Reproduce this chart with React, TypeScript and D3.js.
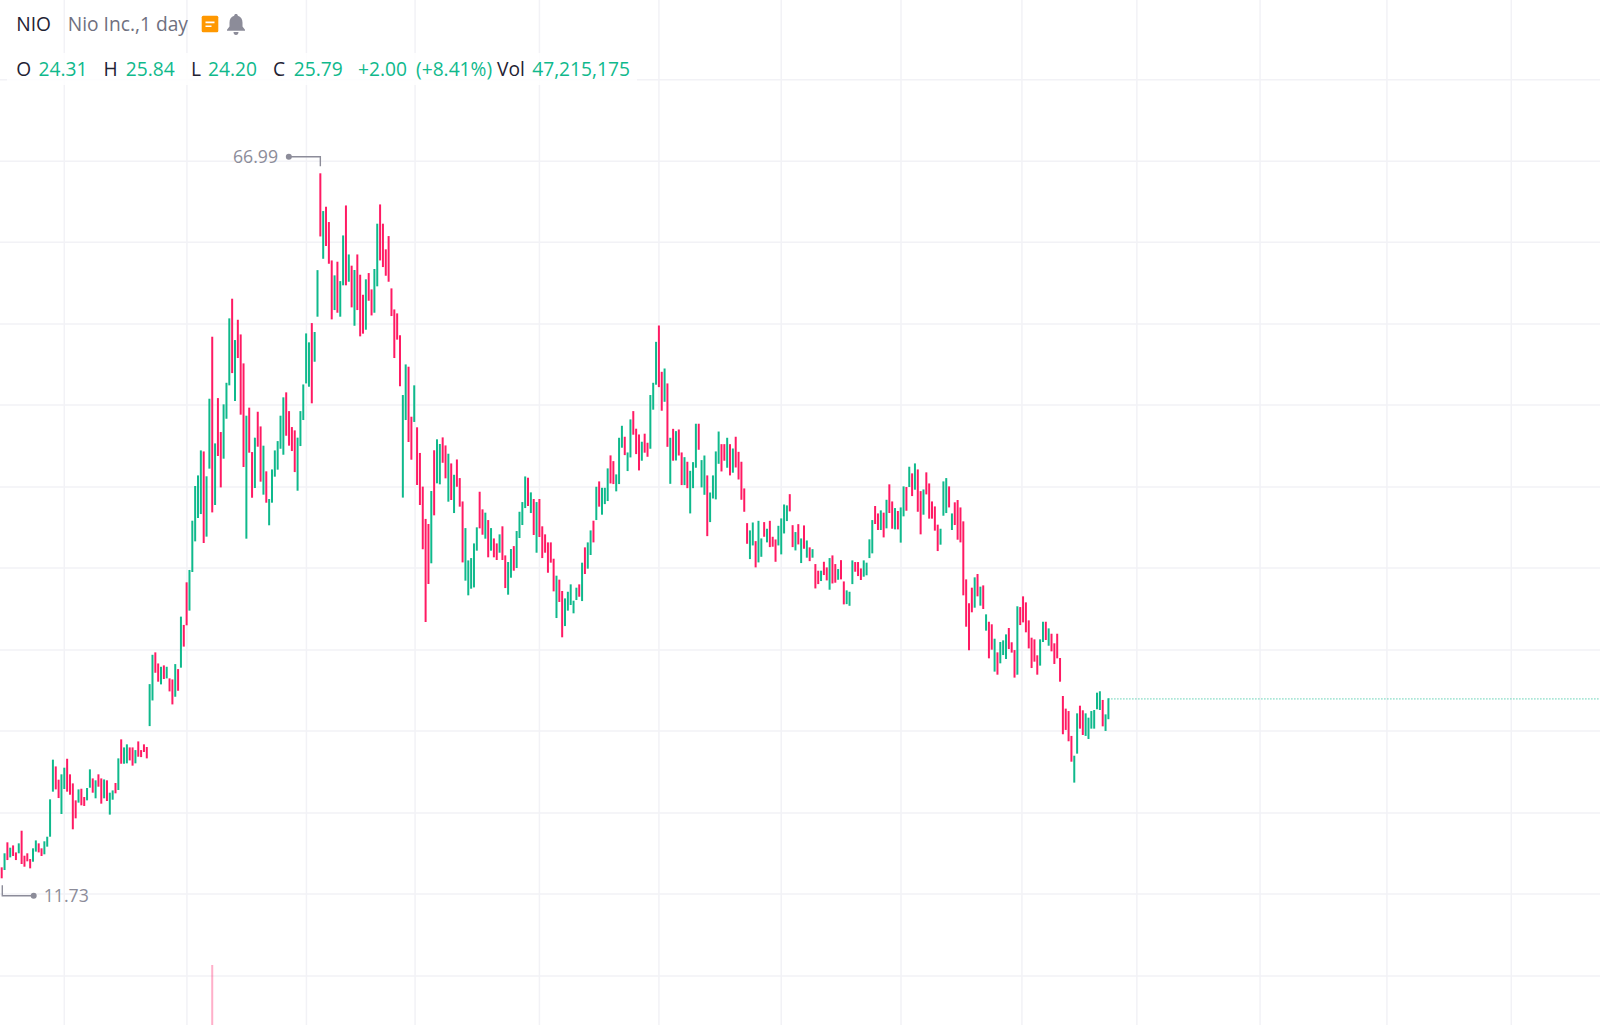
import { useEffect, useRef } from "react";
import * as d3 from "d3";

// daily high-low bars (10 bars per row)
const highs = [
  12.59, 13.69, 14.55, 14.13, 14.31, 13.76, 14.47, 15.46, 13.5, 13.69,
  13.24, 14.08, 14.7, 14.47, 14.08, 14.63, 14.99, 17.92, 21.03, 20.5,
  19.46, 19.88, 20.4, 21.1, 19.88, 19.17, 17.84, 18.7, 18.75, 18.1,
  18.81, 20.27, 19.56, 19.41, 19.88, 19.56, 19.48, 19.41, 18.44, 18.62,
  19.2, 21.13, 22.62, 21.99, 22.23, 21.99, 21.99, 21.78, 22.46, 21.78,
  22.23, 22.02, 26.95, 29.25, 29.44, 28.57, 28.31, 28.42, 28.31, 27.4,
  27.32, 28.52, 28.13, 32.24, 31.59, 34.93, 35.9, 39.76, 42.48, 43.31,
  45.27, 45.19, 43.24, 49.32, 54.18, 45.82, 49.37, 46.71, 48.88, 50.57,
  55.62, 57.16, 53.92, 55.51, 54.36, 52.09, 47.99, 48.62, 45.14, 46.27,
  48.3, 47.15, 45.64, 43.63, 41.46, 43.78, 45.27, 46.0, 47.99, 49.43,
  49.82, 48.35, 47.1, 46.84, 46.27, 48.35, 50.44, 54.44, 53.74, 55.25,
  54.55, 59.4, 66.99, 64.03, 64.37, 63.17, 60.16, 58.99, 60.06, 58.54,
  62.12, 64.47, 60.63, 59.75, 59.41, 60.63, 59.04, 57.47, 58.68, 59.17,
  57.89, 59.49, 63.04, 64.55, 63.04, 61.03, 62.07, 57.97, 56.32, 56.01,
  54.29, 49.61, 52.01, 51.83, 47.91, 50.37, 47.08, 45.07, 42.43, 39.9,
  39.5, 42.09, 45.28, 46.14, 45.77, 46.29, 45.66, 45.01, 44.25, 43.36,
  44.56, 43.1, 41.27, 39.18, 36.65, 36.83, 37.98, 39.24, 42.03, 40.65,
  40.39, 39.81, 39.18, 38.37, 37.98, 38.69, 39.32, 37.04, 36.52, 37.54,
  37.77, 38.95, 40.46, 41.22, 43.23, 43.13, 41.98, 41.46, 41.22, 41.46,
  39.32, 38.69, 38.06, 38.06, 36.78, 35.45, 35.14, 34.25, 33.67, 34.19,
  34.77, 33.49, 34.51, 34.77, 36.47, 37.67, 38.06, 39.0, 39.76, 42.42,
  42.84, 42.34, 42.34, 43.86, 44.88, 44.43, 43.39, 46.26, 47.2, 46.34,
  45.11, 47.7, 48.35, 46.97, 46.52, 45.95, 46.58, 45.87, 49.61, 50.57,
  53.78, 55.06, 51.43, 51.69, 50.52, 46.26, 46.96, 46.78, 46.91, 45.11,
  44.74, 44.38, 43.67, 44.35, 47.36, 47.36, 44.51, 44.87, 43.31, 41.97,
  43.31, 45.19, 46.75, 45.76, 45.76, 46.26, 45.76, 45.42, 46.34, 45.16,
  44.38, 42.29, 39.57, 39.0, 39.62, 38.16, 39.75, 38.37, 39.65, 39.13,
  39.75, 38.5, 38.29, 39.36, 39.94, 41.03, 40.96, 41.84, 39.41, 38.87,
  39.49, 38.37, 39.39, 38.21, 37.67, 37.53, 36.36, 35.84, 35.84, 36.54,
  36.1, 36.83, 37.04, 36.36, 35.97, 36.67, 35.0, 34.3, 34.19, 36.65,
  36.52, 36.52, 36.02, 36.65, 36.47, 38.3, 39.81, 40.91, 40.33, 40.57,
  40.39, 41.4, 42.61, 41.27, 40.75, 40.52, 40.8, 42.45, 42.4, 43.99,
  43.47, 44.25, 43.78, 42.08, 42.21, 43.55, 42.68, 41.27, 40.88, 39.45,
  39.13, 42.84, 43.1, 42.45, 40.33, 41.2, 41.38, 40.8, 39.71, 35.16,
  33.28, 34.51, 35.32, 35.58, 34.59, 34.69, 32.42, 31.84, 31.64, 30.51,
  29.44, 30.25, 30.38, 30.85, 31.35, 30.23, 29.62, 33.05, 32.99, 33.83,
  33.36, 31.95, 30.59, 30.46, 29.21, 30.46, 31.84, 31.84, 31.32, 30.9,
  30.15, 30.9, 29.0, 26.02, 25.03, 24.84, 22.89, 21.34, 24.66, 25.26,
  24.9, 24.66, 24.32, 24.84, 24.92, 26.28, 26.39, 25.71, 24.58, 25.84,
];

const lows = [
  11.73, 12.38, 13.16, 13.37, 13.48, 13.16, 13.69, 12.85, 12.64, 13.06,
  12.51, 13.03, 13.82, 13.76, 13.48, 13.61, 14.21, 14.99, 18.52, 18.7,
  18.02, 16.77, 18.73, 18.52, 18.28, 15.57, 16.43, 17.66, 17.45, 17.4,
  17.84, 18.83, 18.44, 18.0, 18.91, 17.58, 18.0, 17.79, 16.72, 17.89,
  18.39, 18.65, 20.71, 20.71, 20.74, 20.97, 20.56, 20.74, 21.26, 21.23,
  21.63, 21.13, 23.66, 25.67, 27.84, 27.14, 26.93, 27.35, 27.4, 26.38,
  25.36, 25.96, 26.43, 28.24, 29.89, 31.56, 32.71, 35.74, 38.14, 39.97,
  40.28, 38.01, 38.51, 43.84, 40.41, 40.99, 44.83, 42.37, 44.62, 47.75,
  50.37, 51.33, 49.14, 52.51, 48.07, 43.97, 38.35, 45.09, 41.56, 42.32,
  45.56, 42.82, 41.8, 41.17, 39.4, 41.17, 43.21, 43.76, 45.4, 44.93,
  46.42, 45.64, 45.22, 43.57, 42.11, 45.61, 47.65, 50.52, 50.26, 48.96,
  52.22, 55.75, 62.04, 60.29, 61.29, 59.9, 55.54, 56.27, 56.06, 55.75,
  58.21, 58.21, 58.49, 56.48, 55.04, 56.27, 54.21, 54.42, 54.73, 57.0,
  55.85, 56.06, 58.13, 60.16, 59.64, 58.96, 58.49, 55.8, 52.51, 53.95,
  50.29, 41.57, 47.65, 45.93, 44.54, 47.5, 42.56, 40.99, 37.52, 31.82,
  34.8, 36.42, 40.18, 42.69, 42.61, 44.3, 43.08, 41.25, 41.38, 40.36,
  42.42, 40.86, 36.49, 35.06, 33.91, 34.43, 34.53, 37.41, 39.16, 38.66,
  38.35, 36.89, 37.41, 36.89, 36.68, 37.25, 36.68, 34.48, 33.96, 35.29,
  35.84, 36.05, 38.4, 39.42, 40.75, 40.91, 40.36, 38.64, 37.25, 38.48,
  36.83, 37.25, 35.68, 36.47, 34.22, 32.13, 33.39, 30.62, 31.5, 32.71,
  33.15, 32.5, 33.54, 33.8, 33.46, 35.58, 36.0, 37.07, 38.06, 39.81,
  40.86, 40.23, 41.06, 41.3, 42.68, 42.63, 42.06, 42.63, 45.48, 44.9,
  43.65, 44.72, 46.5, 44.98, 43.7, 44.46, 45.09, 44.77, 45.4, 48.46,
  50.42, 50.23, 48.38, 49.08, 45.55, 42.65, 44.46, 44.48, 44.87, 42.55,
  42.55, 42.31, 40.33, 42.31, 43.91, 45.32, 42.37, 41.79, 38.55, 39.65,
  41.5, 41.43, 44.22, 43.62, 44.46, 43.91, 43.31, 43.52, 43.93, 42.99,
  41.4, 40.46, 37.95, 36.75, 37.82, 36.1, 36.49, 36.93, 38.5, 38.06,
  37.69, 37.72, 36.54, 37.82, 37.12, 38.76, 39.73, 40.49, 37.69, 37.43,
  37.9, 36.44, 37.56, 36.86, 36.59, 36.86, 34.45, 34.79, 35.03, 35.5,
  35.08, 34.35, 34.84, 34.9, 35.13, 35.16, 33.2, 33.22, 33.09, 34.79,
  35.76, 35.42, 35.11, 35.37, 35.48, 36.83, 37.2, 39.5, 39.03, 39.03,
  38.45, 39.16, 40.36, 39.13, 39.08, 39.08, 38.04, 40.1, 40.54, 42.4,
  41.69, 42.19, 40.46, 38.69, 40.23, 41.82, 39.92, 39.92, 38.98, 37.38,
  37.88, 40.15, 40.36, 40.8, 39.03, 39.42, 38.27, 38.06, 33.91, 31.45,
  29.6, 32.58, 32.94, 33.83, 33.1, 32.84, 31.14, 28.97, 29.65, 27.93,
  27.69, 28.58, 29.23, 28.92, 29.7, 29.42, 27.46, 27.69, 31.58, 31.79,
  31.01, 29.75, 28.21, 28.71, 27.69, 28.4, 30.25, 30.41, 29.96, 29.52,
  28.53, 28.97, 27.14, 23.02, 23.36, 22.47, 20.87, 19.23, 21.5, 23.46,
  22.96, 22.89, 22.65, 23.46, 23.46, 24.98, 24.92, 23.64, 23.28, 24.2,
];

// 1 = up day (green), 0 = down day (red)
const rising = [
  0, 1, 0, 1, 0, 0, 1, 0, 0, 0,
  0, 1, 1, 0, 0, 1, 1, 1, 1, 0,
  0, 1, 1, 0, 0, 0, 0, 1, 0, 0,
  1, 1, 0, 1, 0, 0, 1, 0, 1, 1,
  0, 1, 0, 1, 1, 0, 0, 1, 0, 0,
  0, 0, 1, 1, 0, 0, 1, 0, 1, 0,
  0, 1, 0, 1, 0, 0, 1, 1, 1, 1,
  1, 0, 1, 1, 0, 1, 0, 0, 1, 1,
  1, 0, 1, 0, 0, 0, 1, 0, 0, 1,
  0, 0, 1, 0, 1, 1, 1, 1, 1, 1,
  0, 0, 0, 0, 1, 1, 1, 1, 1, 0,
  1, 1, 0, 1, 0, 0, 0, 1, 0, 1,
  1, 0, 1, 0, 1, 0, 0, 0, 1, 0,
  0, 1, 1, 0, 0, 0, 0, 0, 0, 0,
  0, 1, 1, 0, 0, 1, 0, 0, 0, 0,
  0, 1, 0, 1, 1, 0, 0, 1, 0, 1,
  0, 0, 0, 1, 1, 1, 1, 1, 0, 0,
  1, 0, 1, 0, 0, 1, 0, 0, 1, 1,
  0, 1, 1, 1, 1, 0, 1, 0, 1, 0,
  0, 0, 0, 0, 0, 1, 0, 0, 1, 1,
  1, 1, 1, 0, 1, 0, 1, 1, 0, 1,
  0, 1, 1, 1, 0, 0, 1, 1, 1, 0,
  1, 1, 0, 0, 0, 1, 0, 0, 1, 1,
  1, 0, 0, 1, 0, 1, 0, 1, 0, 0,
  1, 0, 1, 1, 1, 0, 1, 1, 0, 1,
  1, 1, 1, 0, 0, 1, 0, 1, 0, 0,
  0, 0, 0, 1, 1, 0, 1, 1, 0, 1,
  0, 0, 0, 1, 1, 1, 1, 0, 0, 1,
  0, 1, 0, 1, 0, 1, 0, 0, 1, 0,
  0, 1, 0, 0, 1, 0, 0, 1, 1, 1,
  0, 0, 0, 1, 1, 1, 1, 0, 0, 1,
  0, 1, 0, 0, 1, 0, 1, 1, 0, 1,
  0, 1, 0, 0, 1, 0, 0, 0, 0, 0,
  1, 1, 1, 0, 1, 0, 0, 0, 0, 0,
  0, 0, 1, 0, 1, 0, 1, 0, 0, 1,
  0, 1, 1, 1, 0, 0, 0, 1, 0, 0,
  0, 0, 0, 0, 0, 1, 1, 0, 1, 0,
  0, 0, 0, 0, 0, 0, 0, 1, 1, 0,
  0, 1, 1, 1, 1, 1, 1, 0, 1, 1,
];

// grid sits on these prices / bar positions, no axis labels are visible
const gridPrices = [74.32, 67.94, 61.59, 55.17, 48.82, 42.4, 36.05, 29.62, 23.27, 16.85, 10.5, 4.07];
const gridBars = [22, 65.1, 107.1, 145.3, 189, 231, 274, 316.1, 358.6, 399, 442.3, 486.9, 530.6];

const lastClose = 25.79;
const maxHigh = 66.99;
const minLow = 11.73;

// only one volume bar reaches into the frame
const volumeBars = [{ bar: 74, volume: 1 }];

const ohlcLabels = ["O", "H", "L", "C"];
const ohlcValues = ["24.31", "25.84", "24.20", "25.79"];
const changeLabels = ["+2.00", "(+8.41%)"];
const volumeLabel = "47,215,175";

const GREEN = "#0fb98c";
const RED = "#ff1a63";
const GRID = "#f2f2f6";
const GREY = "#8c8c99";
const DARK = "#1f2233";
const FONT = "'Open Sans', sans-serif";

export default function App() {
  const svgRef = useRef<SVGSVGElement | null>(null);

  useEffect(() => {
    if (!svgRef.current) return;
    const svg = d3.select(svgRef.current);
    svg.selectAll("*").remove();

    const width = 1600;
    const height = 1025;
    const x = d3.scaleLinear().domain([0, 1]).range([1.7, 4.545]);
    const y = d3.scaleLinear().domain([minLow, maxHigh]).range([878.3, 173.3]);
    const volY = d3.scaleLinear().domain([0, 1]).range([1025, 965]);

    const grid = svg.append("g").attr("stroke", GRID).attr("stroke-width", 1.5);
    grid
      .selectAll("line.h")
      .data(gridPrices)
      .enter()
      .append("line")
      .attr("x1", 0)
      .attr("x2", width)
      .attr("y1", (d) => y(d))
      .attr("y2", (d) => y(d));
    grid
      .selectAll("line.v")
      .data(gridBars)
      .enter()
      .append("line")
      .attr("y1", 0)
      .attr("y2", height)
      .attr("x1", (d) => x(d))
      .attr("x2", (d) => x(d));

    // volume
    svg
      .append("g")
      .selectAll("line")
      .data(volumeBars)
      .enter()
      .append("line")
      .attr("x1", (d) => x(d.bar))
      .attr("x2", (d) => x(d.bar))
      .attr("y1", (d) => volY(d.volume))
      .attr("y2", volY(0))
      .attr("stroke", RED)
      .attr("stroke-opacity", 0.35)
      .attr("stroke-width", 2);

    // last price line
    svg
      .append("line")
      .attr("x1", x(highs.length - 1))
      .attr("x2", width)
      .attr("y1", y(lastClose))
      .attr("y2", y(lastClose))
      .attr("stroke", GREEN)
      .attr("stroke-width", 1)
      .attr("stroke-dasharray", "1 2");

    // hi-lo bars
    svg
      .append("g")
      .selectAll("line")
      .data(highs)
      .enter()
      .append("line")
      .attr("x1", (_, i) => x(i))
      .attr("x2", (_, i) => x(i))
      .attr("y1", (d) => y(d))
      .attr("y2", (_, i) => y(lows[i]))
      .attr("stroke", (_, i) => (rising[i] ? GREEN : RED))
      .attr("stroke-width", 2);

    // max / min markers
    const maxBar = highs.indexOf(maxHigh);
    const minBar = lows.indexOf(minLow);
    const marker = svg.append("g").attr("fill", "none").attr("stroke", GREY).attr("stroke-width", 1.4);
    marker
      .append("path")
      .attr("d", `M${x(maxBar)},${y(maxHigh) - 7}V${y(maxHigh) - 16.5}H${x(maxBar) - 31.5}`);
    marker
      .append("path")
      .attr("d", `M${x(minBar) + 0.6},${y(minLow) + 7}V${y(minLow) + 17.5}H${x(minBar) + 32}`);
    svg.append("circle").attr("cx", x(maxBar) - 31.5).attr("cy", y(maxHigh) - 16.5).attr("r", 3).attr("fill", GREY);
    svg.append("circle").attr("cx", x(minBar) + 32).attr("cy", y(minLow) + 17.5).attr("r", 3).attr("fill", GREY);

    const text = (tx: number, ty: number, s: string, fill: string, size = 19.2, anchor = "start") =>
      svg
        .append("text")
        .attr("x", tx)
        .attr("y", ty)
        .attr("fill", fill)
        .attr("font-family", FONT)
        .attr("font-size", size)
        .attr("text-anchor", anchor)
        .text(s);

    text(x(maxBar) - 42.3, y(maxHigh) - 10, maxHigh.toFixed(2), GREY, 17.7, "end");
    text(x(minBar) + 42, y(minLow) + 23.5, minLow.toFixed(2), GREY, 17.7);

    // legend
    svg.append("rect").attr("x", 7).attr("y", 53).attr("width", 630).attr("height", 32).attr("fill", "#fff").attr("fill-opacity", 0.85);

    text(16.3, 31, "NIO", DARK);
    text(67.8, 31, "Nio Inc.,1 day", "#6f7080");

    svg.append("rect").attr("x", 201.7).attr("y", 15.7).attr("width", 16.6).attr("height", 16.6).attr("rx", 1.5).attr("fill", "#ff9800");
    svg.append("path").attr("d", "M205.5,22.4H214.5M205.5,26.2H211.5").attr("stroke", "#fff").attr("stroke-width", 1.6);
    svg
      .append("path")
      .attr("fill", GREY)
      .attr(
        "d",
        "M236,14c1.1,0,1.8,.7,1.8,1.7c3.2,.9,4.7,3.5,4.7,7v3.8l2.5,3.2v1.1h-18v-1.1l2.5,-3.2v-3.8c0,-3.5,1.5,-6.100,4.700,-7c0,-1,.7,-1.700,1.800,-1.700zM233.500,32h5c0,1.700,-1,3,-2.500,3s-2.500,-1.300,-2.500,-3z"
      );

    const labelX = [16.2, 103.5, 191, 273];
    const valueX = [38.5, 125.8, 208, 293.7];
    ohlcLabels.forEach((l, i) => {
      text(labelX[i], 75.5, l, DARK);
      text(valueX[i], 75.5, ohlcValues[i], GREEN);
    });
    text(358, 75.5, changeLabels[0], GREEN);
    text(416, 75.5, changeLabels[1], GREEN);
    text(497, 75.5, "Vol", DARK);
    text(532.2, 75.5, volumeLabel, GREEN);
  }, []);

  return (
    <svg
      ref={svgRef}
      width={1600}
      height={1025}
      style={{ position: "absolute", left: 0, top: 0, background: "#fff" }}
    />
  );
}
